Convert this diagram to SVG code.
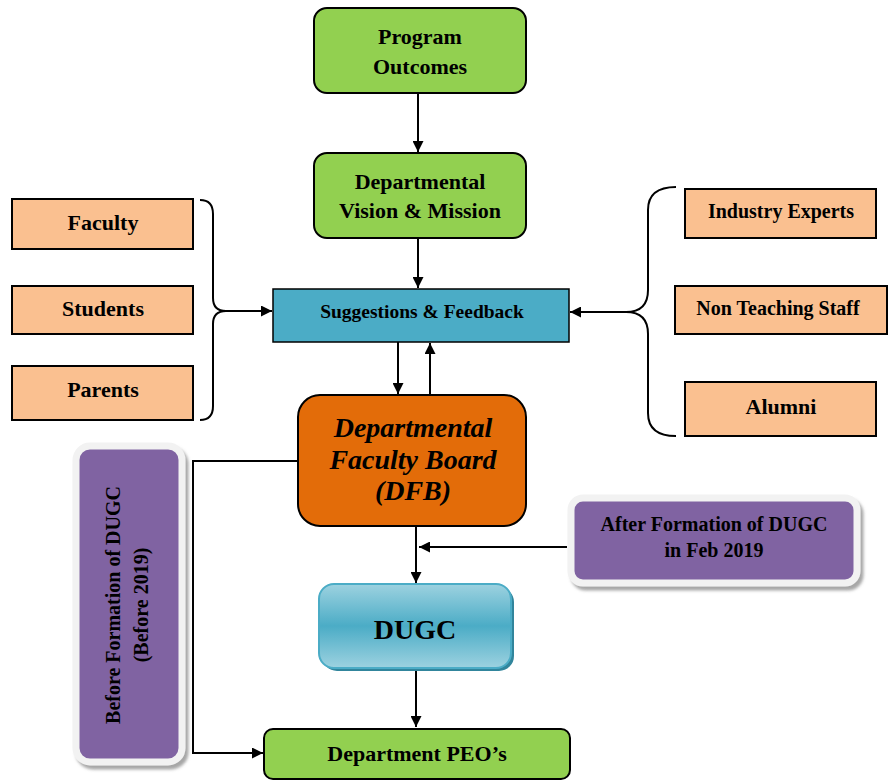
<svg xmlns="http://www.w3.org/2000/svg" width="890" height="781" viewBox="0 0 890 781">
<defs>
<style>
text{font-family:"Liberation Serif","Times New Roman",serif;font-weight:bold;fill:#000;text-anchor:middle}
.green{fill:#92D050;stroke:#000;stroke-width:2}
.peach{fill:#FAC090;stroke:#000;stroke-width:2}
.line{fill:none;stroke:#000;stroke-width:2}
.purple{fill:#8064A2;stroke:#F2F2F2;stroke-width:7}
</style>
<marker id="ah" viewBox="0 0 10 10" refX="10" refY="5" markerWidth="5.5" markerHeight="5.5" orient="auto" markerUnits="strokeWidth">
<path d="M0,0 L10,5 L0,10 z" fill="#000"/>
</marker>
<linearGradient id="dugcG" x1="0" y1="0" x2="0" y2="1">
<stop offset="0" stop-color="#9DD2E0"/>
<stop offset="0.5" stop-color="#4BACC6"/>
<stop offset="1" stop-color="#9DD2E0"/>
</linearGradient>
<filter id="sh" x="-10%" y="-10%" width="130%" height="130%">
<feDropShadow dx="3" dy="4" stdDeviation="1.5" flood-color="#808080" flood-opacity="0.7"/>
</filter>
</defs>

<g id="connectors">
<line class="line" x1="418" y1="93" x2="418" y2="152" marker-end="url(#ah)"/>
<line class="line" x1="418" y1="238" x2="418" y2="288" marker-end="url(#ah)"/>
<path class="line" d="M200,200 Q213,200 213,214 L213,298 Q213,311 226,311 L272,311" marker-end="url(#ah)"/>
<path class="line" d="M200,420 Q213,420 213,406 L213,324 Q213,311 226,311"/>
<path class="line" d="M676,187 Q648,187 648,210 L648,290 Q648,312 626,312 L570,312" marker-end="url(#ah)"/>
<path class="line" d="M676,436 Q648,436 648,413 L648,334 Q648,312 626,312"/>
<line class="line" x1="398" y1="342" x2="398" y2="394" marker-end="url(#ah)"/>
<line class="line" x1="430" y1="395" x2="430" y2="343" marker-end="url(#ah)"/>
<line class="line" x1="416" y1="526" x2="416" y2="583" marker-end="url(#ah)"/>
<line class="line" x1="567" y1="547" x2="419" y2="547" marker-end="url(#ah)"/>
<line class="line" x1="416" y1="668" x2="416" y2="727" marker-end="url(#ah)"/>
<path class="line" d="M298,461 L193,461 L193,753 L263,753" marker-end="url(#ah)"/>
</g>

<g id="program-outcomes">
<rect class="green" x="314" y="8" width="212" height="85" rx="13"/>
<text x="420" y="44" font-size="22">Program</text>
<text x="420" y="74" font-size="22">Outcomes</text>
</g>

<g id="vision-mission">
<rect class="green" x="314" y="153" width="212" height="85" rx="13"/>
<text x="420" y="189" font-size="22">Departmental</text>
<text x="420" y="218" font-size="22">Vision &amp; Mission</text>
</g>

<g id="suggestions-feedback">
<rect x="273" y="289" width="296" height="53" fill="#4BACC6" stroke="#000" stroke-width="1.5"/>
<text x="422" y="318" font-size="19.5">Suggestions &amp; Feedback</text>
</g>

<g id="faculty">
<rect class="peach" x="12" y="199" width="181" height="50"/>
<text x="103" y="230" font-size="22">Faculty</text>
</g>
<g id="students">
<rect class="peach" x="12" y="286" width="181" height="48"/>
<text x="103" y="316" font-size="22">Students</text>
</g>
<g id="parents">
<rect class="peach" x="12" y="366" width="181" height="54"/>
<text x="103" y="397" font-size="22">Parents</text>
</g>

<g id="industry-experts">
<rect class="peach" x="685" y="189" width="191" height="49"/>
<text x="781" y="218" font-size="20">Industry Experts</text>
</g>
<g id="non-teaching-staff">
<rect class="peach" x="675" y="286" width="212" height="48"/>
<text x="778" y="315" font-size="20">Non Teaching Staff</text>
</g>
<g id="alumni">
<rect class="peach" x="685" y="382" width="191" height="54"/>
<text x="781" y="414" font-size="22">Alumni</text>
</g>

<g id="dfb">
<rect x="298" y="395" width="228" height="131" rx="22" fill="#E36C09" stroke="#000" stroke-width="2"/>
<text x="413" y="437" font-size="28" font-style="italic">Departmental</text>
<text x="413" y="469" font-size="28" font-style="italic">Faculty Board</text>
<text x="413" y="500" font-size="28" font-style="italic">(DFB)</text>
</g>

<g id="after-formation">
<rect class="purple" x="571" y="498" width="286" height="85" rx="12" filter="url(#sh)"/>
<text x="714" y="531" font-size="20">After Formation of DUGC</text>
<text x="714" y="557" font-size="20">in Feb 2019</text>
</g>

<g id="dugc">
<rect x="322" y="587" width="192" height="84" rx="15" fill="#31859C"/>
<rect x="319" y="584" width="192" height="84" rx="15" fill="url(#dugcG)" stroke="#4BACC6" stroke-width="2"/>
<text x="415" y="639" font-size="28">DUGC</text>
</g>

<g id="before-formation">
<rect class="purple" x="76" y="446" width="106" height="316" rx="14" filter="url(#sh)"/>
<text transform="translate(120,605) rotate(-90)" x="0" y="0" font-size="20">Before Formation of DUGC</text>
<text transform="translate(148,605) rotate(-90)" x="0" y="0" font-size="20">(Before 2019)</text>
</g>

<g id="peos">
<rect class="green" x="264" y="729" width="306" height="50" rx="9"/>
<text x="417" y="761" font-size="22">Department PEO’s</text>
</g>
</svg>
